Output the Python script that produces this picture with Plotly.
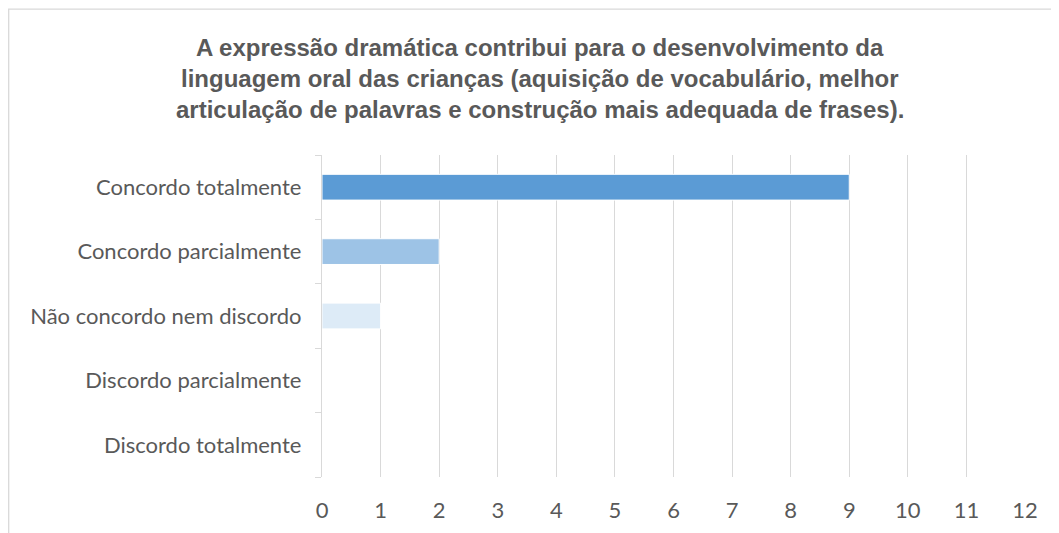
import plotly.graph_objects as go

categories = ["Concordo totalmente", "Concordo parcialmente", "Não concordo nem discordo",
              "Discordo parcialmente", "Discordo totalmente"]
values = [9, 2, 1, 0, 0]
colors = ["#5B9BD5", "#9DC3E6", "#DDEBF7", "#5B9BD5", "#5B9BD5"]
title_lines = ["A expressão dramática contribui para o desenvolvimento da",
               "linguagem oral das crianças (aquisição de vocabulário, melhor",
               "articulação de palavras e construção mais adequada de frases)."]
x_ticks = list(range(0, 13))

fig = go.Figure(go.Bar(
    y=categories, x=values, orientation="h",
    marker=dict(color=colors, line=dict(color="white", width=1)),
    width=0.4,
))

W, H = 1059, 533
L, T, PW, PH = 314, 147, 703, 322
R, B = W - L - PW, H - T - PH

title_ann = []
for i, line in enumerate(title_lines):
    title_ann.append(dict(
        text="<b>" + line + "</b>",
        xref="paper", yref="paper",
        x=(532 - L) / PW, y=1 + (T - (39 + 31 * i)) / PH,
        xanchor="center", yanchor="middle", showarrow=False,
        font=dict(family="Liberation Sans, Arial, sans-serif", size=24, color="#595959"),
    ))

fig.update_layout(
    width=W, height=H,
    margin=dict(l=L, r=R, t=T, b=B),
    plot_bgcolor="white", paper_bgcolor="white",
    showlegend=False,
    font=dict(family="Lato, Open Sans, sans-serif", size=22, color="#595959"),
    xaxis=dict(range=[0, 12], tickvals=x_ticks, showgrid=True, gridcolor="#D9D9D9",
               gridwidth=1.3, zeroline=False, showline=False, ticks="",
               tickfont=dict(size=22, color="#595959"), ticklabelstandoff=18),
    yaxis=dict(categoryorder="array", categoryarray=categories[::-1],
               showline=True, linecolor="#D9D9D9", linewidth=1.3,
               ticks="outside", tickson="boundaries", ticklen=6, tickcolor="#D9D9D9",
               tickwidth=1.3, showgrid=False, ticklabelstandoff=15,
               tickfont=dict(size=22, color="#595959")),
    annotations=title_ann,
    shapes=[dict(type="rect", xref="paper", yref="paper",
                 x0=(0.7 - L) / PW, x1=(1070 - L) / PW,
                 y0=-(560 - T - PH) / PH, y1=1 + (T - 1.2) / PH,
                 line=dict(color="#D9D9D9", width=1.3), layer="below")],
)

fig.write_html("out.html")
